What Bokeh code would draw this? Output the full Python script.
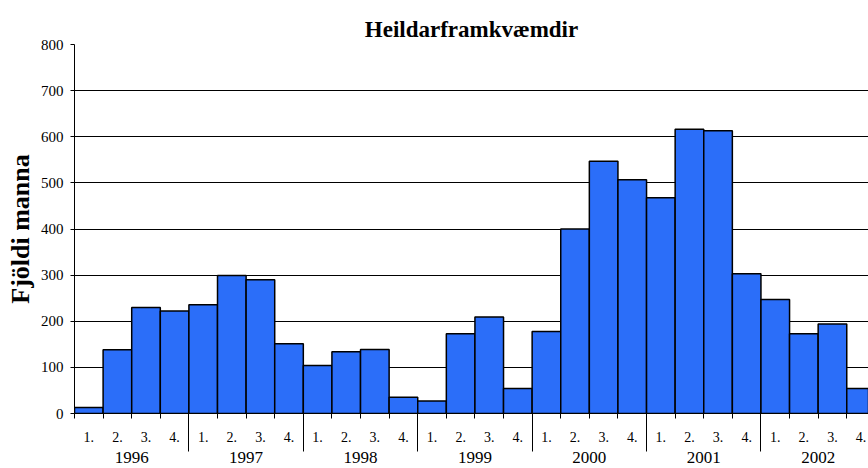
from bokeh.plotting import figure
from bokeh.models import FixedTicker, LinearAxis, Range1d, ColumnDataSource
from bokeh.embed import file_html
from bokeh.resources import INLINE

title_text = "Heildarframkvæmdir"
years = ["1996", "1997", "1998", "1999", "2000", "2001", "2002"]
quarters = ["1.", "2.", "3.", "4."]
values = [13, 138, 230, 222,
          236, 299, 290, 151,
          104, 134, 139, 35,
          27, 173, 209, 54,
          178, 400, 547, 507,
          468, 616, 613, 303,
          247, 173, 194, 54]
y_ticks = [0, 100, 200, 300, 400, 500, 600, 700, 800]

n = len(values)
xs = [2 * i + 1 for i in range(n)]
bounds = [2 * i for i in range(n + 1)]
year_centers = [8 * k + 4 for k in range(len(years))]
year_bounds = [8 * k for k in range(1, len(years))]

src = ColumnDataSource(dict(x=xs, top=values))

SERIF = "Liberation Serif"

p = figure(width=868, height=468, output_backend="svg", toolbar_location=None,
           x_range=Range1d(0, 55.52), y_range=Range1d(0, 800),
           min_border_left=74, min_border_right=0, min_border_top=44,
           min_border_bottom=55, x_axis_location=None,
           title=title_text)
p.outline_line_color = None
p.background_fill_color = "white"
p.border_fill_color = "white"

p.title.text_font = SERIF
p.title.text_font_size = "23px"
p.title.text_font_style = "bold"
p.title.text_color = "black"
p.title.align = "center"
p.title.standoff = 6

for g in p.xgrid:
    g.visible = False
p.ygrid.ticker = FixedTicker(ticks=y_ticks)
p.ygrid.grid_line_color = "black"
p.ygrid.grid_line_width = 1

ya = p.yaxis[0]
ya.ticker = FixedTicker(ticks=y_ticks)
ya.major_tick_out = 4
ya.major_tick_in = 0
ya.minor_tick_line_color = None
ya.axis_line_color = "black"
ya.major_tick_line_color = "black"
ya.major_label_text_font = SERIF
ya.major_label_text_font_size = "15px"
ya.major_label_text_color = "black"
ya.major_label_standoff = 7
ya.axis_label = "Fjöldi manna"
ya.axis_label_text_font = SERIF
ya.axis_label_text_font_size = "26px"
ya.axis_label_text_font_style = "bold"
ya.axis_label_text_color = "black"
ya.axis_label_standoff = 3

p.vbar(x="x", top="top", width=2, bottom=0, source=src,
       fill_color="#2B6EF9", line_color="black", line_width=1.5)

qa = LinearAxis(ticker=FixedTicker(ticks=xs, minor_ticks=bounds),
                major_label_overrides={x: quarters[i % 4] for i, x in enumerate(xs)},
                major_tick_out=0, major_tick_in=0,
                minor_tick_out=5, minor_tick_in=0,
                axis_line_color="black", minor_tick_line_color="black",
                major_label_standoff=13,
                major_label_text_font=SERIF, major_label_text_font_size="14px",
                major_label_text_color="black")
p.add_layout(qa, "below")

ya2 = LinearAxis(ticker=FixedTicker(ticks=year_centers, minor_ticks=year_bounds),
                 major_label_overrides={x: years[i] for i, x in enumerate(year_centers)},
                 major_tick_out=0, major_tick_in=0,
                 minor_tick_out=7, minor_tick_in=31,
                 axis_line_color=None, major_tick_line_color=None,
                 minor_tick_line_color="black",
                 major_label_standoff=0,
                 major_label_text_font=SERIF, major_label_text_font_size="17px",
                 major_label_text_color="black")
p.add_layout(ya2, "below")

open("out.html", "w").write(file_html(p, INLINE))
